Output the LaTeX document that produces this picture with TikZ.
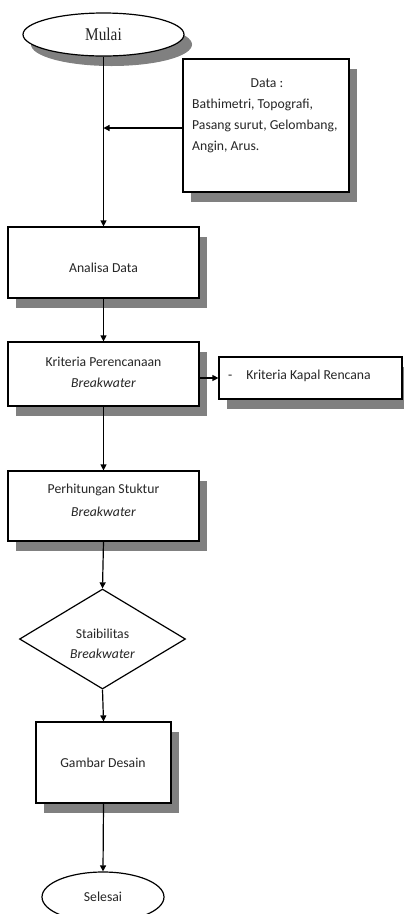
\documentclass[tikz,border=0pt]{standalone}
\usepackage{fontspec}
\setmainfont{Carlito}
\newfontfamily\serifmulai{Liberation Serif}
\usetikzlibrary{arrows.meta,shadows,shapes.geometric}
\tikzset{
  base/.style={draw=black, line width=1.2pt, fill=white, inner sep=0pt, text=black!85},
  shadowed/.style={drop shadow={shadow xshift=8pt, shadow yshift=-10pt, fill=black!50, opacity=1}},
  boxnode/.style={base, shadowed, rectangle},
  ovalnode/.style={base, ellipse},
  decisionnode/.style={base, diamond},
  txt/.style={inner sep=0pt, text=black!85, font=\fontsize{13.7}{21}\selectfont},
  flow/.style={line width=1.2pt, -{Triangle[length=6pt,width=6pt]}},
  plain/.style={line width=1.2pt}
}
\begin{document}
\begin{tikzpicture}[x=1pt, y=-1pt]
\useasboundingbox (0,0) rectangle (404,914);
\clip (0,0) rectangle (404,914);
\fill[white] (0,0) rectangle (404,914);
% nodes
\node[ovalnode, shadowed, minimum width=161pt, minimum height=43pt] (mulai) at (103.5,34.5)
  {\serifmulai\fontsize{18}{18}\selectfont\scalebox{0.85}[1]{Mulai}};
\node[boxnode, minimum width=166pt, minimum height=133pt] (data) at (266,125.5) {};
\node[txt, anchor=base] (datat) at (267,87) {Data :};
\node[txt, anchor=base west, align=left] (datal) at (192,150)
  {Bathimetri, Topografi,\\Pasang surut, Gelombang,\\Angin, Arus.};
\coordinate (j) at (103.5,128);
\node[boxnode, minimum width=191pt, minimum height=71pt] (analisa) at (103.5,262.5) {};
\node[txt] (analisat) at (103.5,268) {Analisa Data};
\node[boxnode, minimum width=191pt, minimum height=64pt] (kriteria) at (103.5,374) {};
\node[txt, anchor=base, align=center] (kriteriat) at (103.5,387)
  {Kriteria Perencanaan\\\textit{Breakwater}};
\node[boxnode, minimum width=183pt, minimum height=42pt] (kapal) at (310.5,378) {};
\node[txt, anchor=base west] (kapalt) at (228,379) {-\hspace{14pt}Kriteria Kapal Rencana};
\node[boxnode, minimum width=191pt, minimum height=70pt] (hitung) at (103.5,506) {};
\node[txt, anchor=base, align=center] (hitungt) at (103.5,516)
  {Perhitungan Stuktur\\[2pt]\textit{Breakwater}};
\node[decisionnode, minimum width=166pt, minimum height=100pt] (stab) at (102.5,639) {};
\node[txt, anchor=base, align=center, font=\fontsize{13.7}{20}\selectfont] (stabt) at (102.5,658)
  {Staibilitas\\\textit{Breakwater}};
\node[boxnode, minimum width=135pt, minimum height=81pt] (gambar) at (103.5,762.5) {};
\node[txt] (gambart) at (103,763) {Gambar Desain};
\node[ovalnode, minimum width=122pt, minimum height=50pt] (selesai) at (103,897)
  {\fontsize{13.7}{14}\selectfont Selesai};
% connectors
\draw[plain] (mulai.south -| j) -- (j);
\draw[flow] (j) -- (analisa.north);
\draw[flow] (data.west |- j) -- (j);
\draw[flow] (analisa.south) -- (kriteria.north);
\draw[flow] (kriteria.east |- kapal.west) -- (kapal.west);
\draw[flow] (kriteria.south) -- (hitung.north);
\draw[flow] (hitung.south) -- (stab.north);
\draw[flow] (stab.south) -- (gambar.north);
\draw[flow] (gambar.south) -- (selesai.north);
\end{tikzpicture}
\end{document}
